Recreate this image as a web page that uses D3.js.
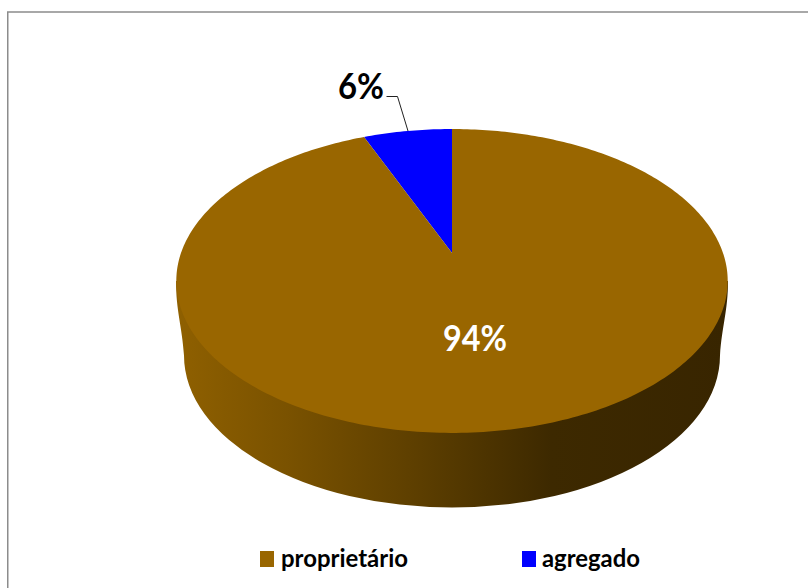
<!DOCTYPE html>
<html>
<head>
<meta charset="utf-8">
<script src="https://d3js.org/d3.v7.min.js"></script>
<style>
  html, body { margin: 0; padding: 0; background: #fff; }
  svg { display: block; }
  text { font-family: Lato, "Open Sans", sans-serif; font-weight: 700; }
</style>
</head>
<body>
<div id="chart"></div>
<script>
var categories = ["agregado", "proprietário"];
var values = [6.2, 93.8];
var legendOrder = ["proprietário", "agregado"];

var width = 809, height = 588;
var cx = 452, apexY = 253;
// tilted disc: the far rim is squeezed, so the pie centre sits above the ellipse centre
var radiusX = 271, radiusY = 146.8, tilt = 0.184;
var ellipseY = 281, ellipseRx = 276;
var bottomY = 355.5, bottomRx = 268, bottomRy = 152;

var color = d3.scaleOrdinal().domain(categories).range(["#0000ff", "#996600"]);

var svg = d3.select("#chart").append("svg")
  .attr("width", width)
  .attr("height", height);

// frame
svg.append("path")
  .attr("d", "M7.75,588V12H808")
  .attr("fill", "none")
  .attr("stroke", "#8c8c8c")
  .attr("stroke-width", 1.5);

var grad = svg.append("defs").append("linearGradient")
  .attr("id", "side")
  .attr("gradientUnits", "userSpaceOnUse")
  .attr("x1", 176).attr("x2", 728)
  .attr("y1", 0).attr("y2", 0);
[[0, "#8f6000"], [0.2, "#7a5200"], [0.42, "#5f4000"], [0.68, "#3d2900"], [1, "#382500"]].forEach(function(s) {
  grad.append("stop").attr("offset", s[0]).attr("stop-color", s[1]);
});

function project(angle) {
  var u = Math.sin(angle), v = Math.cos(angle), k = 1 + tilt * v;
  return [cx + radiusX * u / k, apexY - radiusY * v / k];
}

function slicePath(d) {
  var p = [[cx, apexY]];
  var steps = Math.ceil((d.endAngle - d.startAngle) * 60);
  d3.range(steps + 1).forEach(function(i) {
    p.push(project(d.startAngle + (d.endAngle - d.startAngle) * i / steps));
  });
  return d3.line()(p) + "Z";
}

// side wall: the outline from the top rim's widest points down around the lower ellipse
var sideD = "M" + (cx - ellipseRx) + "," + ellipseY +
  "C" + (cx - ellipseRx) + "," + (ellipseY + 30) + " " + (cx - bottomRx - 2) + "," + (bottomY - 30) + " " + (cx - bottomRx) + "," + bottomY +
  "A" + bottomRx + "," + bottomRy + " 0 0 0 " + (cx + bottomRx) + "," + bottomY +
  "C" + (cx + bottomRx + 2) + "," + (bottomY - 30) + " " + (cx + ellipseRx) + "," + (ellipseY + 30) + " " + (cx + ellipseRx) + "," + ellipseY + "Z";
svg.append("path").attr("d", sideD).attr("fill", "url(#side)");

var pie = d3.pie().sort(null).value(function(d, i) { return values[i]; })
  .startAngle(-values[0] / 100 * 2 * Math.PI)
  .endAngle(2 * Math.PI - values[0] / 100 * 2 * Math.PI);

var slices = pie(categories);

svg.selectAll("path.slice")
  .data(slices)
  .enter()
  .append("path")
  .attr("class", "slice")
  .attr("d", slicePath)
  .attr("fill", function(d) { return color(d.data); });

// labels, squeezed a bit since the original font is narrower
svg.append("text")
  .attr("x", 443).attr("y", 351)
  .attr("font-size", 37)
  .attr("textLength", 64)
  .attr("lengthAdjust", "spacingAndGlyphs")
  .attr("fill", "#fff")
  .text(Math.round(values[1]) + "%");

svg.append("text")
  .attr("x", 338).attr("y", 99)
  .attr("font-size", 37)
  .attr("textLength", 46)
  .attr("lengthAdjust", "spacingAndGlyphs")
  .attr("fill", "#000")
  .text(Math.round(values[0]) + "%");

svg.append("polyline")
  .attr("points", "386.5,96.5 397.5,96.5 408,131")
  .attr("fill", "none")
  .attr("stroke", "#222")
  .attr("stroke-width", 1);

// legend
var legendX = { "proprietário": 260, "agregado": 522 };
var legendText = { "proprietário": [21, 127], "agregado": [20, 98] };
var legend = svg.selectAll("g.legend")
  .data(legendOrder)
  .enter()
  .append("g")
  .attr("class", "legend")
  .attr("transform", function(d) { return "translate(" + legendX[d] + ",551)"; });

legend.append("rect")
  .attr("width", 14)
  .attr("height", 16)
  .attr("fill", function(d) { return color(d); });

legend.append("text")
  .attr("x", function(d) { return legendText[d][0]; })
  .attr("y", 16)
  .attr("font-size", 25)
  .attr("textLength", function(d) { return legendText[d][1]; })
  .attr("lengthAdjust", "spacingAndGlyphs")
  .attr("fill", "#000")
  .text(function(d) { return d; });
</script>
</body>
</html>
